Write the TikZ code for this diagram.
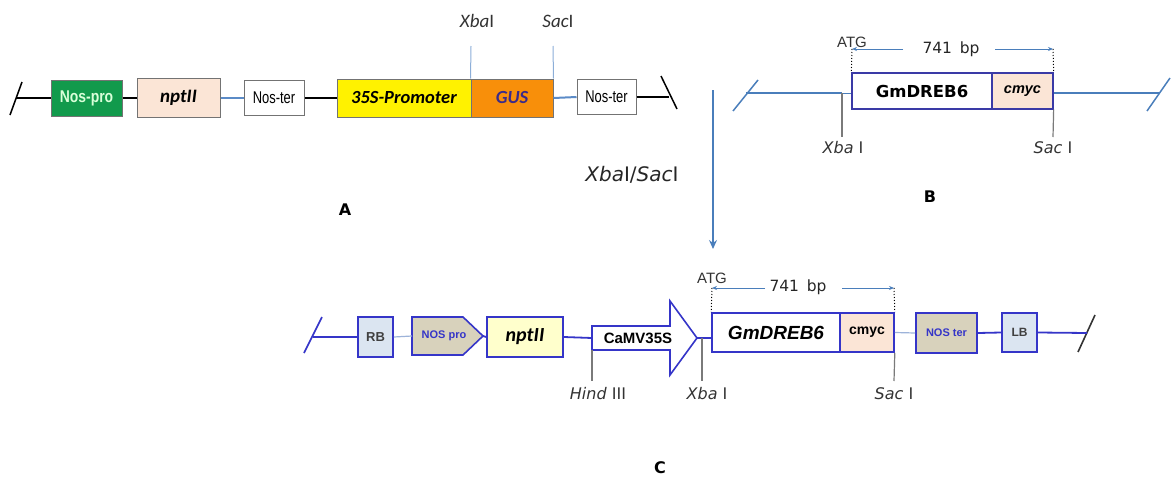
\documentclass[tikz,border=0pt]{standalone}
\usepackage{fontspec}
\newfontfamily\lib{Liberation Sans}
\newfontfamily\carl{Carlito}
\newfontfamily\dv{DejaVu Sans}
\usetikzlibrary{arrows.meta}
\definecolor{grnA}{HTML}{119A4C}
\definecolor{peach}{HTML}{FBE5D6}
\definecolor{orng}{HTML}{F88F0A}
\definecolor{gustxt}{HTML}{3A2A8A}
\definecolor{lblue}{HTML}{5B8BC7}
\definecolor{bl}{HTML}{4A7EBB}
\definecolor{bbord}{HTML}{3A3AA6}
\definecolor{cb}{HTML}{3535C8}
\definecolor{rbfill}{HTML}{DBE5F1}
\definecolor{tan}{HTML}{D8D2BC}
\definecolor{lyel}{HTML}{FFFFCC}
\definecolor{thinl}{HTML}{9DB3D9}
\definecolor{tick}{HTML}{7A7A7A}
\newcommand{\fs}[1]{\fontsize{#1}{#1}\selectfont}
\tikzset{
  boxA/.style={draw=black!55, line width=1pt, inner sep=0pt, minimum height=#1},
  boxA/.default=36pt,
  boxB/.style={draw=bbord, line width=1.3pt, inner sep=0pt, minimum height=36pt},
  boxC/.style={draw=cb, line width=1.6pt, inner sep=0pt},
  bline/.style={bl, line width=1.5pt},
  cline/.style={cb, line width=1.8pt},
  tickl/.style={tick, line width=1.2pt},
  lbl/.style={inner sep=0pt, font=\dv\fs{16}, text=black!80},
  dimarr/.style={bl, line width=0.8pt, -{Stealth[length=5pt,width=4pt]}},
  dots/.style={black, line width=1pt, dotted},
  panel/.style={inner sep=0pt, font=\dv\bfseries\fs{16}}
}
\begin{document}
\begin{tikzpicture}[x=1pt,y=-1pt]
\useasboundingbox (0,0) rectangle (1173,479);
% ---------------- Panel A ----------------
\node[boxA, fill=grnA, minimum width=71pt, font=\lib\bfseries\fs{17}, text=green!15] (nospro) at (86.5,98) {\scalebox{0.82}[1]{Nos-pro}};
\node[boxA=39pt, fill=peach, minimum width=83pt, font=\carl\bfseries\itshape\fs{19}] (nptA) at (178.5,98) {nptII};
\node[boxA=35pt, fill=white, minimum width=60pt, font=\lib\fs{17}] (nterA) at (274,98) {\scalebox{0.76}[1]{Nos-ter}};
\node[boxA=38pt, fill=yellow, minimum width=134pt, font=\carl\bfseries\itshape\fs{18.5}] (prom) at (404,98) {35S-Promoter};
\node[boxA=38pt, fill=orng, minimum width=82pt, font=\carl\bfseries\itshape\fs{18.5}, text=gustxt] (gus) at (512,98) {GUS};
\node[boxA=35pt, fill=white, minimum width=59pt, font=\lib\fs{17}] (nterA2) at (606.5,97) {\scalebox{0.76}[1]{Nos-ter}};
\coordinate (aL1) at (10,115); \coordinate (aL2) at (22,82); \coordinate (aL) at (16,98);
\coordinate (aR1) at (661,76); \coordinate (aR2) at (677,109); \coordinate (aR) at (669,97);
\draw[black, line width=1.5pt] (aL1) -- (aL2);
\draw[black, line width=1.5pt] (aR1) -- (aR2);
\draw[black, line width=1.3pt] (aL) -- (nospro.west);
\draw[black, line width=2.2pt] (nospro.east) -- (nptA.west);
\draw[lblue, line width=2pt] (nptA.east) -- (nterA.west);
\draw[black, line width=1.3pt] (nterA.east) -- (prom.west);
\draw[lblue, line width=2pt] (gus.east) -- (nterA2.west);
\draw[black, line width=1.3pt] (nterA2.east) -- (aR);
\coordinate (xbA) at (471,46); \coordinate (scA) at (553,46);
\draw[lblue!70, line width=1pt] (gus.north west) -- (xbA);
\draw[lblue!70, line width=1pt] (gus.north east) -- (scA);
\node[inner sep=0pt, font=\carl\fs{19}, text=black!80] (xbAl) at (477,21) {\textit{Xba}I};
\node[inner sep=0pt, font=\carl\fs{19}, text=black!80] (scAl) at (558,21) {\textit{Sac}I};
\node[panel] (pA) at (345,210) {A};
% ---------------- Panel B ----------------
\node[boxB, fill=white, minimum width=140pt, font=\dv\bfseries\fs{16.5}] (gmB) at (922,91) {GmDREB6};
\node[boxB, fill=peach, minimum width=61pt, font=\lib\bfseries\itshape\fs{14.5}] (cmB) at (1022.5,91) {cmyc};
\coordinate (bL1) at (733,111); \coordinate (bL2) at (758,80); \coordinate (bL) at (746,93);
\coordinate (bR1) at (1147,111); \coordinate (bR2) at (1170,78); \coordinate (bR) at (1160,93);
\coordinate (xbB) at (842,93); \coordinate (xbBb) at (842,137);
\coordinate (scBb) at (1053,137);
\draw[bline] (bL1) -- (bL2);
\draw[bline] (bR1) -- (bR2);
\draw[bline] (bL) -- (xbB);
\draw[bline, line width=1pt] (xbB) -- (xbB -| gmB.west);
\draw[bline] (cmB.east |- bR) -- (bR);
\draw[tickl] (xbB) -- (xbBb);
\draw[tickl] (cmB.south east) -- (scBb);
\node[lbl] (xbBl) at (843,148) {\textit{Xba} I};
\node[lbl] (scBl) at (1053,148) {\textit{Sac} I};
\node[inner sep=0pt, font=\lib\fs{15}, text=black!80] (atgB) at (852,42) {ATG};
\coordinate (dB1) at (852,49); \coordinate (dB2) at (1053,49);
\draw[dots] (dB1) -- (gmB.north west);
\draw[dots] (dB2) -- (cmB.north east);
\node[inner sep=0pt, font=\dv\fs{15.5}, text=black!85] (bpB) at (951,49) {741\,\,\,bp};
\coordinate (aB1) at (903,49); \coordinate (aB2) at (995,49);
\draw[dimarr] (aB1) -- (dB1);
\draw[dimarr] (aB2) -- (dB2);
\node[panel] (pB) at (930,197) {B};
% ---------------- big arrow ----------------
\coordinate (ar1) at (713,90); \coordinate (ar2) at (713,249);
\draw[bl, line width=1.5pt, -{Stealth[length=9pt,width=8pt,inset=3pt]}] (ar1) -- (ar2);
\node[inner sep=0pt, font=\dv\fs{20}, text=black!85] (cut) at (632,175) {\textit{Xba}I/\textit{Sac}I};
% ---------------- Panel C ----------------
\node[boxC, fill=rbfill, minimum width=35pt, minimum height=40pt, font=\lib\bfseries\fs{13}, text=black!75] (rb) at (375.5,337) {RB};
% NOS pro pentagon
\coordinate (np) at (412,336);
\draw[cb, line width=1.6pt, fill=tan] (412,317) -- (463,317) -- (483,336) -- (463,355) -- (412,355) -- cycle;
\node[inner sep=0pt, font=\lib\bfseries\fs{11}, text=cb] (nosp) at (444,336) {NOS pro};
\coordinate (npE) at (483,336);
\node[boxC, fill=lyel, minimum width=76pt, minimum height=40pt, font=\carl\bfseries\itshape\fs{20}] (nptC) at (525,337) {nptII};
% CaMV35S arrow
\draw[cb, line width=1.6pt, fill=white] (592,326) -- (670,326) -- (670,301) -- (697,338) -- (670,375) -- (670,350) -- (592,350) -- cycle;
\coordinate (camW) at (592,338); \coordinate (camE) at (697,338);
\node[inner sep=0pt, font=\lib\bfseries\fs{15}] (cam) at (638,338) {CaMV35S};
\node[boxC, fill=white, minimum width=128pt, minimum height=39pt, font=\lib\bfseries\itshape\fs{19}] (gmC) at (776,332.5) {Gm\textit{DREB6}};
\node[boxC, fill=peach, minimum width=54pt, minimum height=39pt, font=\lib\bfseries\fs{14}] (cmC) at (867,332.5) {cmyc};
\node[boxC, fill=tan, minimum width=61pt, minimum height=40pt, font=\lib\bfseries\fs{11}, text=cb] (nterC) at (946.5,333) {NOS ter};
\node[boxC, fill=rbfill, minimum width=35pt, minimum height=39pt, font=\lib\bfseries\fs{12}, text=black!75] (lb) at (1019.5,332.5) {LB};
\coordinate (cL1) at (304,353); \coordinate (cL2) at (322,317); \coordinate (cL) at (313,337);
\coordinate (cR1) at (1078,352); \coordinate (cR2) at (1095,315); \coordinate (cR) at (1087,333);
\draw[cb, line width=1.6pt] (cL1) -- (cL2);
\draw[black!80, line width=1.6pt] (cR1) -- (cR2);
\draw[cline] (cL) -- (rb.west);
\draw[thinl, line width=1.2pt] (rb.east) -- (np);
\draw[cline] (npE) -- (nptC.west);
\draw[cline] (nptC.east) -- (camW);
\draw[cline] (camE) -- (camE -| gmC.west);
\draw[thinl, line width=1.2pt] (cmC.east) -- (nterC.west);
\draw[cline] (nterC.east) -- (lb.west);
\draw[cline] (lb.east) -- (cR);
% ticks
\coordinate (hdT) at (592,350); \coordinate (hdB) at (592,381);
\coordinate (xcT) at (702,338); \coordinate (xcB) at (702,381);
\coordinate (scCb) at (894,381);
\draw[tickl] (hdT) -- (hdB);
\draw[tickl] (xcT) -- (xcB);
\draw[tickl] (cmC.south east) -- (scCb);
\node[lbl] (hdl) at (598,394) {\textit{Hind} III};
\node[lbl] (xcl) at (707,394) {\textit{Xba} I};
\node[lbl] (scl) at (894,394) {\textit{Sac} I};
\node[inner sep=0pt, font=\lib\fs{15}, text=black!80] (atgC) at (712,278) {ATG};
\coordinate (dC1) at (712,288); \coordinate (dC2) at (894,288);
\draw[dots] (dC1) -- (gmC.north west);
\draw[dots] (dC2) -- (cmC.north east);
\node[inner sep=0pt, font=\dv\fs{15.5}, text=black!85] (bpC) at (798,287) {741\,\,\,bp};
\coordinate (aC1) at (765,288); \coordinate (aC2) at (842,288);
\draw[dimarr] (aC1) -- (dC1);
\draw[dimarr] (aC2) -- (dC2);
\node[panel] (pC) at (660,468) {C};
\end{tikzpicture}
\end{document}
